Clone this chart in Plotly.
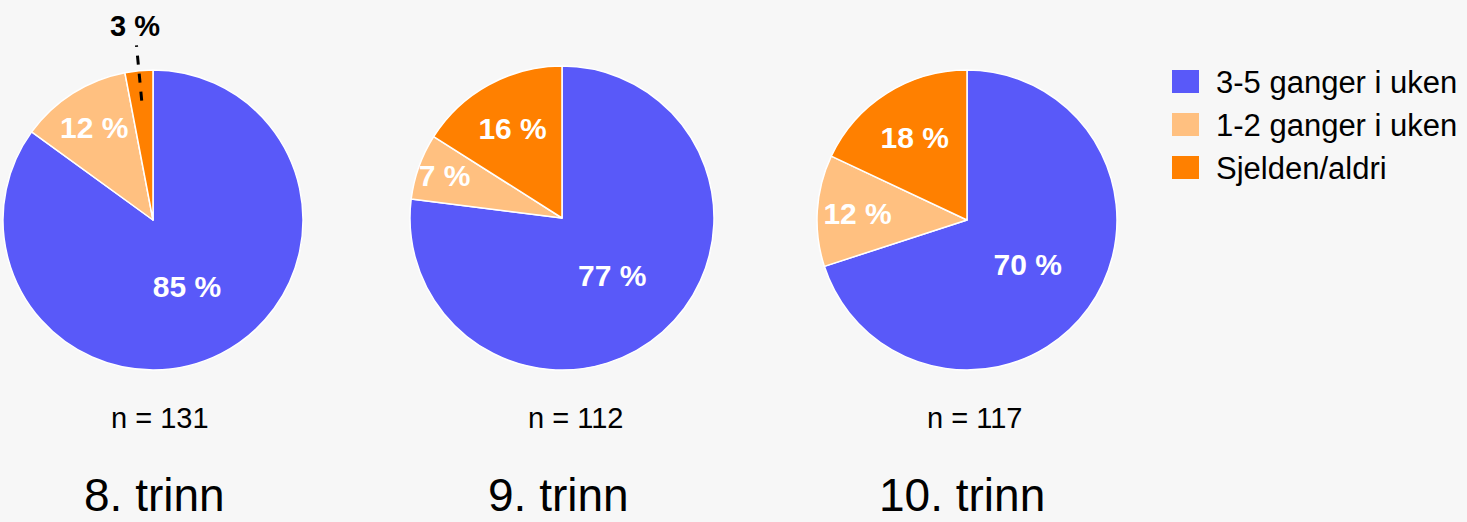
import math
import plotly.graph_objects as go

# ---- data ----
categories = ["3-5 ganger i uken", "1-2 ganger i uken", "Sjelden/aldri"]
grades = ["8. trinn", "9. trinn", "10. trinn"]
values_8 = [85, 12, 3]
values_9 = [77, 7, 16]
values_10 = [70, 12, 18]
n_values = [131, 112, 117]

colors = ["#5959F9", "#FFC080", "#FF8000"]
W, H = 1467, 522
FONT = "Liberation Sans, Arial, sans-serif"

# layout geometry (pixels)
pie_centers = [(153, 220), (562, 218), (967, 220)]
pie_diam = [300, 304, 300]
n_label_x = [160, 575, 974]
grade_label_x = [154, 558, 962]

series = [values_8, values_9, values_10]

fig = go.Figure()
annotations = []
for i, vals in enumerate(series):
    cx, cy = pie_centers[i]
    d = pie_diam[i]
    dom_x = [(cx - d / 2) / W, (cx + d / 2) / W]
    dom_y = [1 - (cy + d / 2) / H, 1 - (cy - d / 2) / H]
    positions = ["inside" if v >= 5 else "none" for v in vals]
    fig.add_trace(go.Pie(
        labels=categories,
        values=vals,
        sort=False,
        direction="clockwise",
        rotation=0,
        domain=dict(x=dom_x, y=dom_y),
        marker=dict(colors=colors, line=dict(color="white", width=1.5)),
        texttemplate="<b>%{value} %</b>",
        textposition=positions,
        insidetextorientation="horizontal",
        insidetextfont=dict(color="white", size=30, family=FONT),
        hoverinfo="label+value",
        showlegend=False,
    ))

    # small slices: label outside with dashed leader line along the slice's mid angle
    cum = 0
    total = sum(vals)
    for v in vals:
        if v < 5:
            mid = (cum + v / 2) / total * 2 * math.pi  # clockwise from 12 o'clock
            r = d / 2
            x0 = cx + 0.80 * r * math.sin(mid)
            y0 = cy - 0.80 * r * math.cos(mid)
            x1 = cx + 1.17 * r * math.sin(mid)
            y1 = cy - 1.17 * r * math.cos(mid)
            fig.add_shape(type="line", xref="paper", yref="paper",
                          x0=x0 / W, y0=1 - y0 / H, x1=x1 / W, y1=1 - y1 / H,
                          line=dict(color="black", width=3, dash="dash"))
            xt = cx + 1.30 * r * math.sin(mid)
            yt = cy - 1.30 * r * math.cos(mid)
            annotations.append(dict(
                x=xt / W, y=1 - yt / H, xref="paper", yref="paper",
                text=f"<b>{v} %</b>", showarrow=False,
                xanchor="center", yanchor="middle",
                font=dict(size=29, color="black", family=FONT)))
        cum += v

for i in range(3):
    annotations.append(dict(
        x=n_label_x[i] / W, y=1 - 418 / H, xref="paper", yref="paper",
        text=f"n = {n_values[i]}", showarrow=False,
        xanchor="center", yanchor="middle",
        font=dict(size=29, color="black", family=FONT)))
    annotations.append(dict(
        x=grade_label_x[i] / W, y=0, xref="paper", yref="paper",
        text=grades[i], showarrow=False, borderpad=0,
        xanchor="center", yanchor="bottom",
        font=dict(size=46, color="black", family=FONT)))

# custom legend (large swatches)
for j, cat in enumerate(categories):
    yc = 81.5 + 43 * j
    fig.add_shape(type="rect", xref="paper", yref="paper",
                  x0=1172 / W, x1=1199 / W,
                  y0=1 - (yc + 11.5) / H, y1=1 - (yc - 11.5) / H,
                  fillcolor=colors[j], line=dict(width=0))
    annotations.append(dict(
        x=1214 / W, y=1 - (yc + 1) / H, xref="paper", yref="paper",
        text=cat, showarrow=False, xanchor="left", yanchor="middle",
        font=dict(size=31, color="black", family=FONT)))

fig.update_layout(
    width=W, height=H,
    margin=dict(l=0, r=0, t=0, b=0),
    paper_bgcolor="#F7F7F7",
    plot_bgcolor="#F7F7F7",
    annotations=annotations,
    showlegend=False,
    uniformtext=dict(minsize=30, mode="show"),
)

fig.write_html(
    "out.html",
    config={"displayModeBar": False},
    post_script="document.body.style.margin='0';document.body.style.background='#F7F7F7';document.body.style.overflow='hidden';",
)
